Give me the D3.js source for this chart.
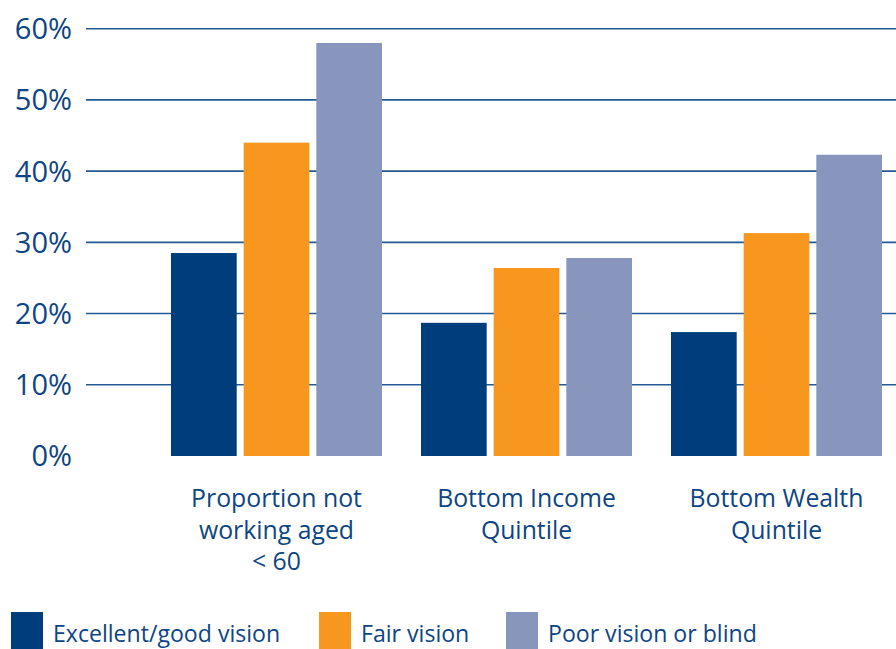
<!DOCTYPE html>
<html>
<head>
<meta charset="utf-8">
<script src="https://cdn.jsdelivr.net/npm/d3@7"></script>
<style>
  html, body { margin: 0; padding: 0; background: #ffffff; }
  text { font-family: "Open Sans", "Noto Sans", sans-serif; fill: #0e4584; }
</style>
</head>
<body>
<svg id="chart" width="896" height="649"></svg>
<script>
const categories = [
  ["Proportion not", "working aged", "< 60"],
  ["Bottom Income", "Quintile"],
  ["Bottom Wealth", "Quintile"]
];
const categoryKeys = ["Proportion not working aged < 60", "Bottom Income Quintile", "Bottom Wealth Quintile"];
const seriesNames = ["Excellent/good vision", "Fair vision", "Poor vision or blind"];
const seriesColors = ["#003d7c", "#f7971e", "#8896be"];
const excellentGood = [28.5, 18.7, 17.4];
const fair = [44.0, 26.4, 31.3];
const poorBlind = [58.0, 27.8, 42.3];
const yTicks = [0, 10, 20, 30, 40, 50, 60];

const seriesValues = [excellentGood, fair, poorBlind];

const svg = d3.select("#chart");

const y = d3.scaleLinear().domain([0, 60]).range([456, 28.7]);
const x0 = d3.scaleBand().domain(categoryKeys).range([151.5, 901.5]).padding(0);
const x1 = d3.scaleBand().domain(seriesNames).range([19.5, 230.5]).paddingInner(7 / 73).paddingOuter(0);

// gridlines
svg.append("g")
  .selectAll("line")
  .data(yTicks.filter(d => d > 0))
  .join("line")
  .attr("x1", 86).attr("x2", 896)
  .attr("y1", d => y(d)).attr("y2", d => y(d))
  .attr("stroke", "#245a93").attr("stroke-width", 1.6);

// y tick labels
svg.append("g")
  .selectAll("text")
  .data(yTicks)
  .join("text")
  .attr("x", 72)
  .attr("y", d => y(d))
  .attr("dy", "0.36em")
  .attr("text-anchor", "end")
  .style("font-size", "29px")
  .text(d => d + "%");

// bars
const groups = svg.append("g")
  .selectAll("g")
  .data(categoryKeys)
  .join("g")
  .attr("transform", d => `translate(${x0(d)},0)`);

groups.selectAll("rect")
  .data((d, i) => seriesNames.map((s, j) => ({ s, j, v: seriesValues[j][i] })))
  .join("rect")
  .attr("x", d => x1(d.s))
  .attr("width", x1.bandwidth())
  .attr("y", d => y(d.v))
  .attr("height", d => y(0) - y(d.v))
  .attr("fill", d => seriesColors[d.j]);

// category labels
const cx = x1.range()[0] + (x1.range()[1] - x1.range()[0]) / 2;
groups.append("text")
  .attr("x", cx)
  .attr("y", 507)
  .attr("text-anchor", "middle")
  .style("font-size", "24.8px")
  .each(function(d, i) {
    const t = d3.select(this);
    categories[i].forEach((line, k) => {
      t.append("tspan")
        .attr("x", cx)
        .attr("y", 507 + k * 31.5)
        .text(line);
    });
  });

// legend
const legendX = [11, 319, 506];
const legend = svg.append("g")
  .selectAll("g")
  .data(seriesNames)
  .join("g")
  .attr("transform", (d, i) => `translate(${legendX[i]},612)`);
legend.append("rect")
  .attr("width", 32).attr("height", 37)
  .attr("fill", (d, i) => seriesColors[i]);
legend.append("text")
  .attr("x", 42).attr("y", 30)
  .style("font-size", "23.1px")
  .text(d => d);
</script>
</body>
</html>
